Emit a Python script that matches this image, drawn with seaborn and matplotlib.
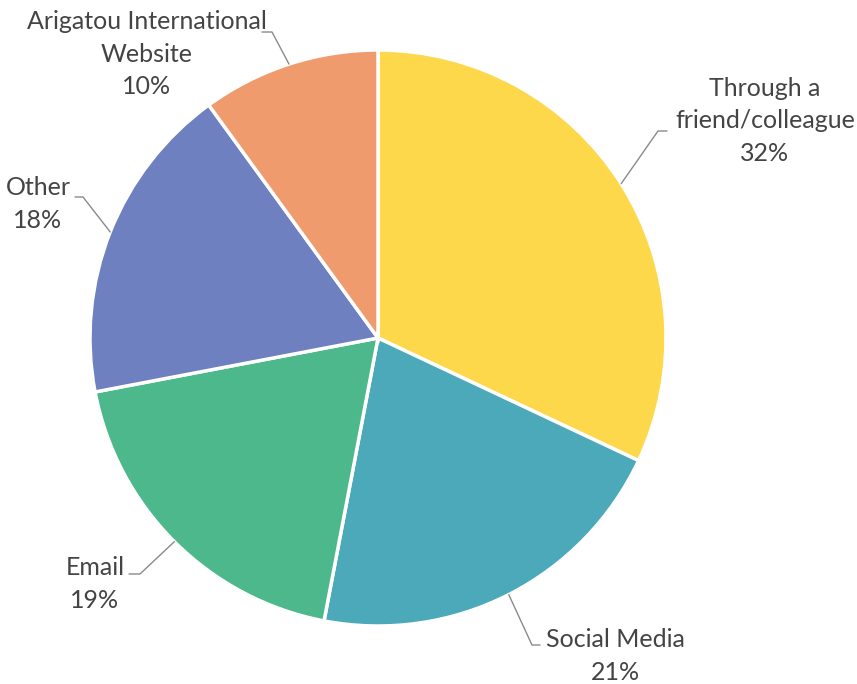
import numpy as np
import seaborn as sns
import matplotlib
matplotlib.use("Agg")
import matplotlib.pyplot as plt

# data
categories = ["Through a\nfriend/colleague", "Social Media", "Email", "Other",
              "Arigatou International\nWebsite"]
shares = [32, 21, 19, 18, 10]
colors = ["#FDD84B", "#4BA9BA", "#4CB88C", "#6F80C0", "#F09B6E"]

sns.set_theme(style="white")
plt.rcParams["font.family"] = ["Lato", "DejaVu Sans"]

W, H = 857, 684
CX, CY, R = 378, 338, 288  # pie centre/radius in pixels


def px(x, y):
    # pixel -> data units (radius = 1)
    return (x - CX) / R, (CY - y) / R


fig = plt.figure(figsize=(W / 100, H / 100), dpi=100)
ax = fig.add_axes([0, 0, 1, 1])
wedges, _ = ax.pie(shares, colors=colors, startangle=90, counterclock=False,
                   wedgeprops=dict(edgecolor="white", linewidth=2.5))
ax.set_xlim(-CX / R, (W - CX) / R)
ax.set_ylim(-(H - CY) / R, CY / R)
ax.set_aspect("auto")
ax.axis("off")

# label centres, leader start (at text) and elbow, in pixels
label_pos = [(765, 121), (615, 656), (95, 584), (38, 204), (147, 54)]
leader_start = [(667, 131), (540, 645), (129, 574), (75, 197), (262, 32)]
leader_elbow = [(658, 131), (532, 645), (140, 574), (83, 197), (272, 32)]

for w, cat, val, lp, ls, le in zip(wedges, categories, shares,
                                    label_pos, leader_start, leader_elbow):
    ang = np.deg2rad((w.theta1 + w.theta2) / 2)
    ex, ey = np.cos(ang), np.sin(ang)
    sx, sy = px(*ls)
    bx, by = px(*le)
    ax.plot([sx, bx, ex], [sy, by, ey], color="#8a8a8a", lw=1)
    tx, ty = px(*lp)
    ax.text(tx, ty, f"{cat}\n{val}%", ha="center", va="center",
            fontsize=18, color="#444444", linespacing=1.5)

fig.savefig("out.png", dpi=100)
